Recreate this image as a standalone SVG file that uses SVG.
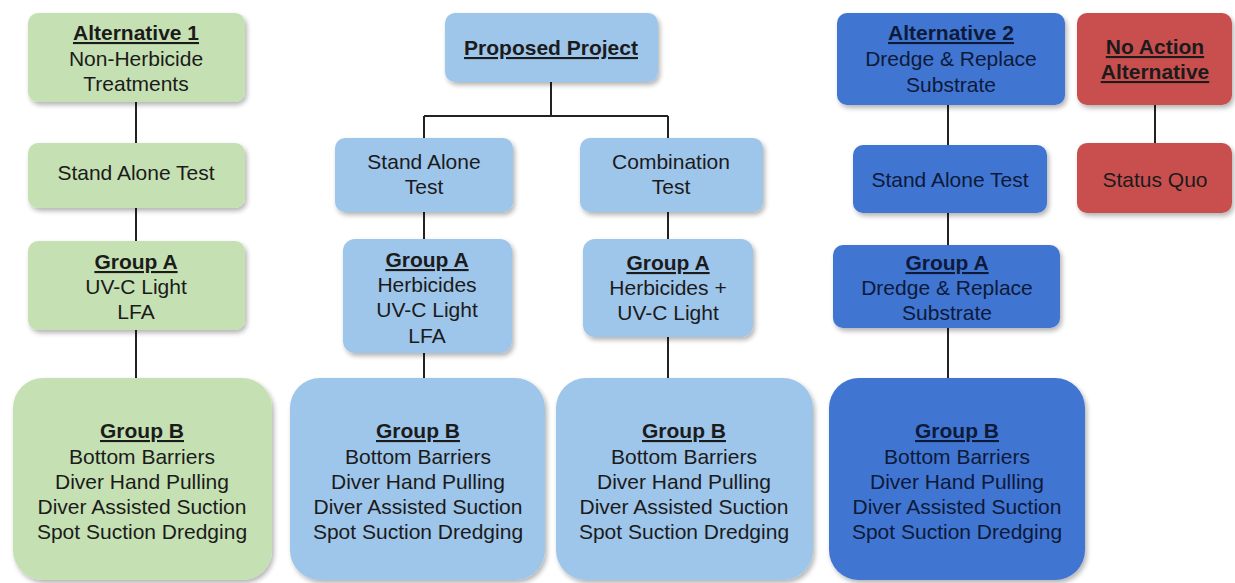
<svg xmlns="http://www.w3.org/2000/svg" width="1235" height="583" viewBox="0 0 1235 583">
<defs>
<filter id="sh" x="-10%" y="-10%" width="125%" height="130%">
<feGaussianBlur in="SourceAlpha" stdDeviation="2.5"/>
<feOffset dx="2" dy="3" result="b"/>
<feComponentTransfer><feFuncA type="linear" slope="0.3"/></feComponentTransfer>
<feMerge><feMergeNode/><feMergeNode in="SourceGraphic"/></feMerge>
</filter>
</defs>
<style>
text{font-family:"Liberation Sans",Arial,sans-serif;font-size:21px;text-anchor:middle;fill:#1b1b1b}
.h{font-weight:bold;text-decoration:underline}
.g{fill:#c5e0b2}
.lb{fill:#9ec5ea}
.db{fill:#3f74d2}
.rd{fill:#c9504f}
.dk text{fill:#0d1a3a}
.bx{filter:url(#sh)}
.c{stroke:#222;stroke-width:2;fill:none}
</style>
<rect width="1235" height="583" fill="#ffffff"/>
<g id="connectors">
<path class="c" d="M136 102V143M136 208V241M136 330V378"/>
<path class="c" d="M551 82V116M424 116H668M424 116V138M668 116V138"/>
<path class="c" d="M424 212V239M424 353V378M668 212V239M668 337V378"/>
<path class="c" d="M948 105V145M948 213V245M948 328V378"/>
<path class="c" d="M1155 105V143"/>
</g>
<g id="alt1">
<rect class="bx g" x="28" y="13" width="217" height="89" rx="10"/>
<text x="136" y="40" class="h">Alternative 1</text>
<text x="136" y="66">Non-Herbicide</text>
<text x="136" y="91">Treatments</text>
</g>
<g id="alt1-sat">
<rect class="bx g" x="28" y="143" width="217" height="65" rx="10"/>
<text x="136" y="180">Stand Alone Test</text>
</g>
<g id="alt1-ga">
<rect class="bx g" x="28" y="241" width="217" height="89" rx="10"/>
<text x="136" y="269" class="h">Group A</text>
<text x="136" y="294">UV-C Light</text>
<text x="136" y="319">LFA</text>
</g>
<g id="alt1-gb">
<rect class="bx g" x="13" y="378" width="259" height="202" rx="30"/>
<text x="142" y="438" class="h">Group B</text>
<text x="142" y="464">Bottom Barriers</text>
<text x="142" y="489">Diver Hand Pulling</text>
<text x="142" y="514">Diver Assisted Suction</text>
<text x="142" y="539">Spot Suction Dredging</text>
</g>
<g id="proposed">
<rect class="bx lb" x="445" y="13" width="213" height="69" rx="10"/>
<text x="551" y="55" class="h">Proposed Project</text>
</g>
<g id="prop-sat">
<rect class="bx lb" x="335" y="138" width="178" height="74" rx="10"/>
<text x="424" y="169">Stand Alone</text>
<text x="424" y="194">Test</text>
</g>
<g id="prop-comb">
<rect class="bx lb" x="580" y="138" width="183" height="74" rx="10"/>
<text x="671" y="169">Combination</text>
<text x="671" y="194">Test</text>
</g>
<g id="prop-ga">
<rect class="bx lb" x="343" y="239" width="169" height="114" rx="12"/>
<text x="427" y="267" class="h">Group A</text>
<text x="427" y="292">Herbicides</text>
<text x="427" y="317">UV-C Light</text>
<text x="427" y="343">LFA</text>
</g>
<g id="comb-ga">
<rect class="bx lb" x="583" y="239" width="170" height="98" rx="12"/>
<text x="668" y="270" class="h">Group A</text>
<text x="668" y="295">Herbicides +</text>
<text x="668" y="320">UV-C Light</text>
</g>
<g id="prop-gb">
<rect class="bx lb" x="290" y="378" width="255" height="202" rx="30"/>
<text x="418" y="438" class="h">Group B</text>
<text x="418" y="464">Bottom Barriers</text>
<text x="418" y="489">Diver Hand Pulling</text>
<text x="418" y="514">Diver Assisted Suction</text>
<text x="418" y="539">Spot Suction Dredging</text>
</g>
<g id="comb-gb">
<rect class="bx lb" x="556" y="378" width="257" height="202" rx="30"/>
<text x="684" y="438" class="h">Group B</text>
<text x="684" y="464">Bottom Barriers</text>
<text x="684" y="489">Diver Hand Pulling</text>
<text x="684" y="514">Diver Assisted Suction</text>
<text x="684" y="539">Spot Suction Dredging</text>
</g>
<g id="alt2" class="dk">
<rect class="bx db" x="837" y="13" width="228" height="92" rx="10"/>
<text x="951" y="40" class="h">Alternative 2</text>
<text x="951" y="66">Dredge &amp; Replace</text>
<text x="951" y="92">Substrate</text>
</g>
<g id="alt2-sat" class="dk">
<rect class="bx db" x="853" y="145" width="194" height="68" rx="10"/>
<text x="950" y="187">Stand Alone Test</text>
</g>
<g id="alt2-ga" class="dk">
<rect class="bx db" x="833" y="245" width="227" height="83" rx="10"/>
<text x="947" y="270" class="h">Group A</text>
<text x="947" y="295">Dredge &amp; Replace</text>
<text x="947" y="320">Substrate</text>
</g>
<g id="alt2-gb" class="dk">
<rect class="bx db" x="829" y="378" width="256" height="202" rx="30"/>
<text x="957" y="438" class="h">Group B</text>
<text x="957" y="464">Bottom Barriers</text>
<text x="957" y="489">Diver Hand Pulling</text>
<text x="957" y="514">Diver Assisted Suction</text>
<text x="957" y="539">Spot Suction Dredging</text>
</g>
<g id="noaction">
<rect class="bx rd" x="1077" y="13" width="155" height="92" rx="10"/>
<text x="1155" y="54" class="h">No Action</text>
<text x="1155" y="79" class="h">Alternative</text>
</g>
<g id="statusquo">
<rect class="bx rd" x="1077" y="143" width="155" height="70" rx="10"/>
<text x="1155" y="187">Status Quo</text>
</g>
</svg>
